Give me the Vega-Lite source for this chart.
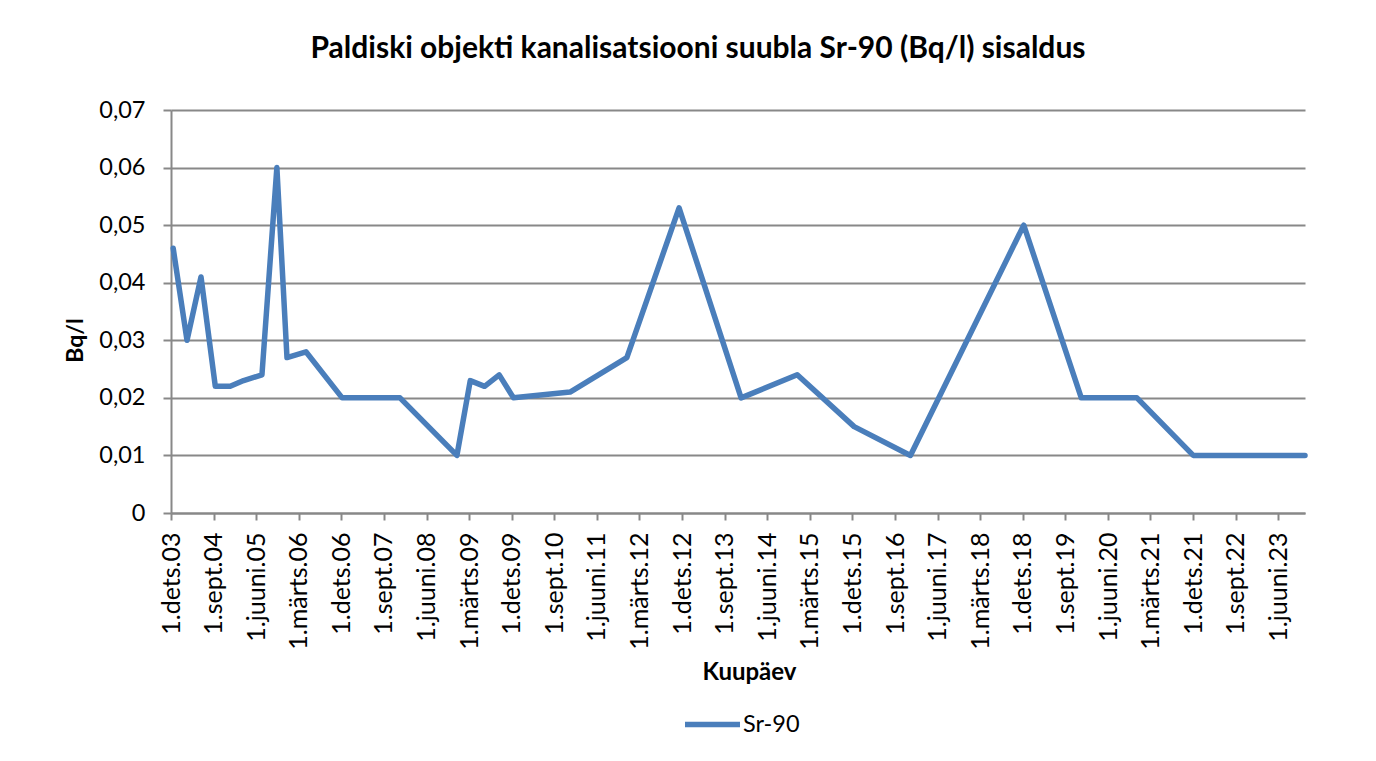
{
  "$schema": "https://vega.github.io/schema/vega-lite/v6.json",
  "width": 1134,
  "height": 403,
  "autosize": {"type": "none"},
  "padding": {"left": 171, "top": 110, "right": 71, "bottom": 248},
  "background": "white",
  "title": {
    "text": "Paldiski objekti kanalisatsiooni suubla Sr-90 (Bq/l) sisaldus",
    "font": "Lato",
    "fontSize": 30,
    "fontWeight": "bold",
    "color": "black",
    "anchor": "middle",
    "frame": "group",
    "baseline": "alphabetic",
    "offset": 10,
    "dx": -40
  },
  "config": {
    "view": {"stroke": null},
    "font": "Lato"
  },
  "data": {
    "values": [
      {"date": "2003-12-15", "value": 0.046, "series": "Sr-90"},
      {"date": "2004-03-13", "value": 0.030, "series": "Sr-90"},
      {"date": "2004-06-11", "value": 0.041, "series": "Sr-90"},
      {"date": "2004-09-11", "value": 0.022, "series": "Sr-90"},
      {"date": "2004-12-16", "value": 0.022, "series": "Sr-90"},
      {"date": "2005-03-12", "value": 0.023, "series": "Sr-90"},
      {"date": "2005-07-08", "value": 0.024, "series": "Sr-90"},
      {"date": "2005-10-12", "value": 0.060, "series": "Sr-90"},
      {"date": "2005-12-16", "value": 0.027, "series": "Sr-90"},
      {"date": "2006-04-17", "value": 0.028, "series": "Sr-90"},
      {"date": "2006-12-06", "value": 0.020, "series": "Sr-90"},
      {"date": "2007-12-13", "value": 0.020, "series": "Sr-90"},
      {"date": "2008-12-13", "value": 0.010, "series": "Sr-90"},
      {"date": "2009-03-09", "value": 0.023, "series": "Sr-90"},
      {"date": "2009-06-09", "value": 0.022, "series": "Sr-90"},
      {"date": "2009-09-11", "value": 0.024, "series": "Sr-90"},
      {"date": "2009-12-12", "value": 0.020, "series": "Sr-90"},
      {"date": "2010-12-11", "value": 0.021, "series": "Sr-90"},
      {"date": "2011-12-11", "value": 0.027, "series": "Sr-90"},
      {"date": "2012-11-11", "value": 0.053, "series": "Sr-90"},
      {"date": "2013-12-15", "value": 0.020, "series": "Sr-90"},
      {"date": "2014-12-11", "value": 0.024, "series": "Sr-90"},
      {"date": "2015-12-12", "value": 0.015, "series": "Sr-90"},
      {"date": "2016-12-08", "value": 0.010, "series": "Sr-90"},
      {"date": "2018-12-07", "value": 0.050, "series": "Sr-90"},
      {"date": "2019-12-12", "value": 0.020, "series": "Sr-90"},
      {"date": "2020-12-04", "value": 0.020, "series": "Sr-90"},
      {"date": "2021-12-01", "value": 0.010, "series": "Sr-90"},
      {"date": "2022-12-01", "value": 0.010, "series": "Sr-90"},
      {"date": "2023-11-20", "value": 0.010, "series": "Sr-90"}
    ]
  },
  "mark": {"type": "line", "strokeWidth": 5.5, "strokeCap": "round", "strokeJoin": "round"},
  "encoding": {
    "x": {
      "field": "date",
      "type": "temporal",
      "scale": {
        "type": "utc",
        "domain": [
          {"year": 2003, "month": 12, "date": 1, "utc": true},
          {"year": 2023, "month": 11, "date": 20, "utc": true}
        ],
        "nice": false
      },
      "axis": {
        "title": "Kuupäev",
        "titleFont": "Lato",
        "titleFontSize": 24,
        "titleFontWeight": "bold",
        "titleColor": "black",
        "titleX": 578,
        "titleY": 159,
        "titleBaseline": "middle",
        "titleAlign": "center",
        "values": [
          {"year": 2003, "month": 12, "date": 1, "utc": true},
          {"year": 2004, "month": 9, "date": 1, "utc": true},
          {"year": 2005, "month": 6, "date": 1, "utc": true},
          {"year": 2006, "month": 3, "date": 1, "utc": true},
          {"year": 2006, "month": 12, "date": 1, "utc": true},
          {"year": 2007, "month": 9, "date": 1, "utc": true},
          {"year": 2008, "month": 6, "date": 1, "utc": true},
          {"year": 2009, "month": 3, "date": 1, "utc": true},
          {"year": 2009, "month": 12, "date": 1, "utc": true},
          {"year": 2010, "month": 9, "date": 1, "utc": true},
          {"year": 2011, "month": 6, "date": 1, "utc": true},
          {"year": 2012, "month": 3, "date": 1, "utc": true},
          {"year": 2012, "month": 12, "date": 1, "utc": true},
          {"year": 2013, "month": 9, "date": 1, "utc": true},
          {"year": 2014, "month": 6, "date": 1, "utc": true},
          {"year": 2015, "month": 3, "date": 1, "utc": true},
          {"year": 2015, "month": 12, "date": 1, "utc": true},
          {"year": 2016, "month": 9, "date": 1, "utc": true},
          {"year": 2017, "month": 6, "date": 1, "utc": true},
          {"year": 2018, "month": 3, "date": 1, "utc": true},
          {"year": 2018, "month": 12, "date": 1, "utc": true},
          {"year": 2019, "month": 9, "date": 1, "utc": true},
          {"year": 2020, "month": 6, "date": 1, "utc": true},
          {"year": 2021, "month": 3, "date": 1, "utc": true},
          {"year": 2021, "month": 12, "date": 1, "utc": true},
          {"year": 2022, "month": 9, "date": 1, "utc": true},
          {"year": 2023, "month": 6, "date": 1, "utc": true}
        ],
        "labelExpr": "'1.' + ['jaan','veebr','märts','apr','mai','juuni','juuli','aug','sept','okt','nov','dets'][utcmonth(datum.value)] + '.' + utcFormat(datum.value, '%y')",
        "labelAngle": 270,
        "labelAlign": "right",
        "labelBaseline": "middle",
        "labelFont": "Lato",
        "labelFontSize": 25,
        "labelColor": "black",
        "labelOverlap": false,
        "labelBound": false,
        "labelFlush": false,
        "labelPadding": 12,
        "tickSize": 7,
        "tickColor": "#888888",
        "tickWidth": 2,
        "domainColor": "#888888",
        "domainWidth": 2,
        "grid": false
      }
    },
    "y": {
      "field": "value",
      "type": "quantitative",
      "scale": {"domain": [0, 0.07], "nice": false},
      "axis": {
        "title": "Bq/l",
        "titleFont": "Lato",
        "titleFontSize": 23,
        "titleFontWeight": "bold",
        "titleColor": "black",
        "titleAngle": 270,
        "titleX": -96,
        "titleY": 230,
        "titleAlign": "center",
        "titleBaseline": "middle",
        "values": [0, 0.01, 0.02, 0.03, 0.04, 0.05, 0.06, 0.07],
        "labelExpr": "datum.value == 0 ? '0' : replace(format(datum.value, '.2f'), '.', ',')",
        "labelFont": "Lato",
        "labelFontSize": 23.5,
        "labelColor": "black",
        "labelPadding": 18,
        "tickSize": 8,
        "tickColor": "#888888",
        "tickWidth": 2,
        "domainColor": "#888888",
        "domainWidth": 2,
        "grid": true,
        "gridColor": "#888888",
        "gridWidth": 2
      }
    },
    "color": {
      "field": "series",
      "type": "nominal",
      "scale": {"range": ["#4a7ebb"]},
      "legend": {
        "title": null,
        "orient": "none",
        "legendX": 511,
        "legendY": 584,
        "symbolType": "stroke",
        "symbolSize": 3025,
        "symbolStrokeWidth": 5.5,
        "labelFont": "Lato",
        "labelFontSize": 23.5,
        "labelColor": "black",
        "labelOffset": 0
      }
    }
  }
}
